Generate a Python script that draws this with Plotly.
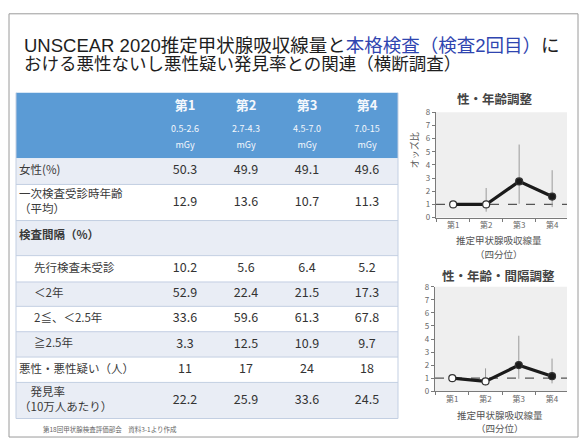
import plotly.graph_objects as go

FIG_W, FIG_H = 586, 443

# ---------------- data ----------------
title_black_1 = "UNSCEAR 2020推定甲状腺吸収線量と"
title_blue = "本格検査（検査2回目）"
title_black_2 = "に"
title_line2 = "おける悪性ないし悪性疑い発見率との関連（横断調査）"

quartiles = ["第1", "第2", "第3", "第4"]
dose_ranges = ["0.5-2.6", "2.7-4.3", "4.5-7.0", "7.0-15"]
dose_unit = "mGy"

row_labels = [
    "女性(%)",
    "一次検査受診時年齢<br>（平均）",
    "<b>検査間隔（%）</b>",
    "先行検査未受診",
    "＜2年",
    "2≦、＜2.5年",
    "≧2.5年",
    "悪性・悪性疑い（人）",
    "　発見率<br>（10万人あたり）",
]
q1_values = [50.3, 12.9, None, 10.2, 52.9, 33.6, 3.3, 11, 22.2]
q2_values = [49.9, 13.6, None, 5.6, 22.4, 59.6, 12.5, 17, 25.9]
q3_values = [49.1, 10.7, None, 6.4, 21.5, 61.3, 10.9, 24, 33.6]
q4_values = [49.6, 11.3, None, 5.2, 17.3, 67.8, 9.7, 18, 24.5]

source_note = "第18回甲状腺検査評価部会　資料3-1より作成"

chart1_title = "性・年齢調整"
chart2_title = "性・年齢・間隔調整"
odds_axis_title = "オッズ比"
dose_axis_title_lines = ["推定甲状腺吸収線量", "（四分位）"]
odds_ticks = [0, 1, 2, 3, 4, 5, 6, 7, 8]
reference_or = 1.0

or_sex_age = [1.0, 1.0, 2.75, 1.6]
or_sex_age_hi = [1.0, 2.25, 5.55, 3.6]
or_sex_age_lo = [1.0, 0.45, 1.05, 0.8]

or_sex_age_int = [1.0, 0.75, 2.0, 1.15]
or_sex_age_int_hi = [1.0, 1.75, 4.25, 2.5]
or_sex_age_int_lo = [1.0, 0.45, 0.95, 0.6]

# ---------------- style / layout ----------------
JP = "Noto Sans CJK JP"
TITLE_FONT = "Liberation Sans, Noto Sans CJK JP"
BLUE_TITLE = "#2f45b0"
HEADER_BLUE = "#5b9bd5"
BAND = "#e9edf5"
SEP = "#c3cfe2"

TBL_L, TBL_R = 16, 398
HDR_TOP = 89
row_edges = [156, 183, 220, 256, 283, 308, 334, 360, 386, 423]
value_col_x = [185, 246, 307, 367]
label_col_x = [19, 19, 19, 34, 34, 34, 34, 19, 19]
row_fill = [BAND if i % 2 == 0 else "#ffffff" for i in range(len(row_labels))]
row_centers = [(row_edges[i] + row_edges[i + 1]) / 2 for i in range(len(row_labels))]
row_centers[2] -= 2

marker_fill = ["#ffffff", "#ffffff", "#1b1b1b", "#1b1b1b"]


def fmt(v):
    return "" if v is None else f"{v:g}"


fig = go.Figure()

# ---- table text (on a pixel-scaled helper axis x3/y3) ----
common_txt = dict(mode="text", xaxis="x3", yaxis="y3", hoverinfo="skip", showlegend=False)
for j, col in enumerate([q1_values, q2_values, q3_values, q4_values]):
    fig.add_trace(go.Scatter(
        x=[value_col_x[j]] * len(col), y=row_centers, text=[fmt(v) for v in col],
        textposition="middle center",
        textfont=dict(size=12.5, color="#333333", family=JP), **common_txt))

fig.add_trace(go.Scatter(
    x=label_col_x, y=row_centers, text=row_labels, textposition="middle right",
    marker=dict(size=1), textfont=dict(size=11.5, color="#3a3a3a", family=JP), **common_txt))

fig.add_trace(go.Scatter(
    x=value_col_x, y=[103] * 4, text=[f"<b>{q}</b>" for q in quartiles],
    textposition="middle center", textfont=dict(size=13, color="#f4f7fc", family=JP), **common_txt))
fig.add_trace(go.Scatter(
    x=value_col_x, y=[127] * 4, text=dose_ranges,
    textposition="middle center", textfont=dict(size=9, color="#f4f7fc", family=JP), **common_txt))
fig.add_trace(go.Scatter(
    x=value_col_x, y=[143] * 4, text=[dose_unit] * 4,
    textposition="middle center", textfont=dict(size=9, color="#f4f7fc", family=JP), **common_txt))

# ---- charts ----
def err(mid, hi, lo):
    return dict(type="data", symmetric=False,
                array=[h - m for h, m in zip(hi, mid)],
                arrayminus=[m - l for m, l in zip(mid, lo)],
                color="#9a9a9a", thickness=1, width=0)

fig.add_trace(go.Scatter(
    x=quartiles, y=or_sex_age, mode="lines+markers",
    line=dict(color="#1b1b1b", width=3.2),
    marker=dict(size=7, color=marker_fill, line=dict(color="#333333", width=1.2)),
    error_y=err(or_sex_age, or_sex_age_hi, or_sex_age_lo),
    xaxis="x", yaxis="y", showlegend=False, hoverinfo="skip"))
fig.add_trace(go.Scatter(
    x=quartiles, y=or_sex_age_int, mode="lines+markers",
    line=dict(color="#1b1b1b", width=3.2),
    marker=dict(size=7, color=marker_fill, line=dict(color="#333333", width=1.2)),
    error_y=err(or_sex_age_int, or_sex_age_int_hi, or_sex_age_int_lo),
    xaxis="x2", yaxis="y2", showlegend=False, hoverinfo="skip"))

xax = dict(type="category", categoryorder="array", categoryarray=quartiles,
           range=[-0.52, 3.45], showline=True, linecolor="#7a7a7a", linewidth=1.2,
           ticks="outside", tickson="boundaries", ticklen=3, tickcolor="#7a7a7a",
           tickfont=dict(size=8, color="#666666", family=JP),
           showgrid=False, zeroline=False, fixedrange=True)
yax = dict(range=[0, 8], tickvals=odds_ticks, showline=True, linecolor="#7a7a7a",
           linewidth=1.2, ticks="outside", ticklen=3, tickcolor="#7a7a7a",
           tickfont=dict(size=8, color="#666666", family=JP),
           showgrid=False, zeroline=False, fixedrange=True)

shapes = []
# slide frame
shapes.append(dict(type="rect", xref="x3", yref="y3", x0=9, x1=578, y0=8, y1=442,
                   line=dict(color="#9a9a9a", width=1), fillcolor="rgba(0,0,0,0)"))
# table header + bands
shapes.append(dict(type="rect", xref="x3", yref="y3", x0=TBL_L, x1=TBL_R, y0=HDR_TOP,
                   y1=row_edges[0], fillcolor=HEADER_BLUE, line=dict(width=0), layer="below"))
for i in range(len(row_labels)):
    shapes.append(dict(type="rect", xref="x3", yref="y3", x0=TBL_L, x1=TBL_R,
                       y0=row_edges[i], y1=row_edges[i + 1], fillcolor=row_fill[i],
                       line=dict(width=0), layer="below"))
for e in row_edges[1:]:
    shapes.append(dict(type="line", xref="x3", yref="y3", x0=TBL_L, x1=TBL_R, y0=e, y1=e,
                       line=dict(color=SEP, width=1)))
for xv in (TBL_L, TBL_R):
    shapes.append(dict(type="line", xref="x3", yref="y3", x0=xv, x1=xv, y0=HDR_TOP,
                       y1=row_edges[-1], line=dict(color=SEP, width=1)))
# chart backgrounds + reference lines
for ax in ("", "2"):
    shapes.append(dict(type="rect", xref=f"x{ax} domain", yref=f"y{ax} domain",
                       x0=0, x1=1, y0=0, y1=1, fillcolor="#efefef", line=dict(width=0),
                       layer="below"))
    shapes.append(dict(type="line", xref=f"x{ax} domain", yref=f"y{ax}", x0=0, x1=1,
                       y0=reference_or, y1=reference_or,
                       line=dict(color="#555555", width=1.2, dash="dash"), layer="below"))


def ann(text, x, y, size, color="#333333", xanchor="center", family=JP, **kw):
    return dict(text=text, x=x, y=y, xref="x3", yref="y3", xanchor=xanchor,
                yanchor="middle", showarrow=False, borderpad=0,
                font=dict(size=size, color=color, family=family), **kw)


annotations = [
    ann(f"{title_black_1}<span style='color:{BLUE_TITLE}'>{title_blue}</span>{title_black_2}",
        23, 40, 18.5, color="#1e1e1e", xanchor="left", family=TITLE_FONT),
    ann(title_line2, 23, 59, 17.5, color="#1e1e1e", xanchor="left", family=TITLE_FONT),
    ann(f"<b>{chart1_title}</b>", 495, 95, 12.5, color="#444444"),
    ann(f"<b>{chart2_title}</b>", 498, 276, 12.5, color="#444444"),
    ann(odds_axis_title, 414, 148, 9, color="#555555", textangle=-90),
    ann(dose_axis_title_lines[0], 499, 240, 9.5, color="#555555"),
    ann(dose_axis_title_lines[1], 499, 254, 9.5, color="#555555"),
    ann(dose_axis_title_lines[0], 500, 419, 9.5, color="#555555"),
    ann(dose_axis_title_lines[1], 500, 433, 9.5, color="#555555"),
    ann(source_note, 42, 434, 6.5, color="#666666", xanchor="left"),
]

fig.update_layout(
    width=FIG_W, height=FIG_H, margin=dict(l=0, r=0, t=0, b=0),
    paper_bgcolor="#ffffff", plot_bgcolor="rgba(0,0,0,0)",
    xaxis=dict(domain=[436 / FIG_W, 567 / FIG_W], anchor="y", **xax),
    yaxis=dict(domain=[1 - 217 / FIG_H, 1 - 109 / FIG_H], anchor="x", **yax),
    xaxis2=dict(domain=[435 / FIG_W, 567 / FIG_W], anchor="y2", **xax),
    yaxis2=dict(domain=[1 - 395 / FIG_H, 1 - 288 / FIG_H], anchor="x2", **yax),
    xaxis3=dict(domain=[0, 1], range=[0, FIG_W], visible=False, fixedrange=True, anchor="y3"),
    yaxis3=dict(domain=[0, 1], range=[FIG_H, 0], visible=False, fixedrange=True, anchor="x3"),
    shapes=shapes, annotations=annotations, showlegend=False,
)

fig.write_html("out.html")
